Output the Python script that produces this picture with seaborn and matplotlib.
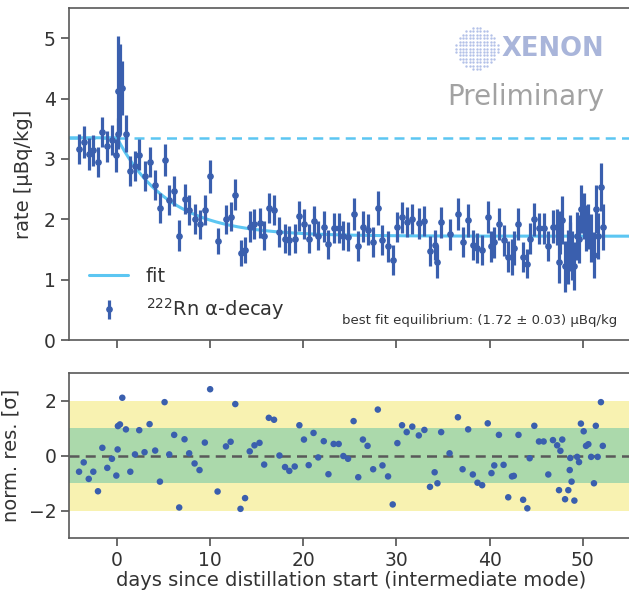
import numpy as np
import matplotlib
matplotlib.use("Agg")
import matplotlib.pyplot as plt
import seaborn as sns

# ---------------- data ----------------
days = [-4.07, -3.57, -3.03, -2.54, -2.04, -1.57, -1.04, -0.54, -0.07, 0.07,
        0.10, 0.32, 0.57, 0.96, 1.43, 1.93, 2.39, 2.96, 3.50, 4.10,
        4.61, 5.11, 5.61, 6.14, 6.68, 7.25, 7.75, 8.33, 8.86, 9.43,
        10.00, 10.80, 11.70, 12.20, 12.70, 13.26, 13.75, 14.25, 14.76, 15.30,
        15.80, 16.30, 16.86, 17.44, 18.04, 18.50, 19.08, 19.58, 20.07, 20.58,
        21.10, 21.60, 22.20, 22.70, 23.26, 23.80, 24.30, 24.80, 25.40, 25.90,
        26.40, 26.90, 27.50, 28.00, 28.50, 29.10, 29.60, 30.10, 30.60, 31.10,
        31.70, 32.40, 33.00, 33.60, 34.10, 34.40, 34.80, 35.70, 36.60, 37.10,
        37.70, 38.20, 38.70, 39.20, 39.80, 40.20, 40.50, 41.00, 41.50, 42.00,
        42.40, 42.60, 43.10, 43.60, 44.05, 44.30, 44.80, 45.30, 45.80, 46.30,
        46.80, 47.25, 47.45, 47.60, 47.80, 48.10, 48.45, 48.60, 48.66, 48.80,
        49.10, 49.40, 49.60, 49.80, 50.10, 50.35, 50.60, 50.90, 51.20, 51.40,
        51.60, 51.95, 52.15]

rate = [3.17, 3.28, 3.08, 3.14, 2.95, 3.45, 3.21, 3.32, 3.06, 3.42,
        4.13, 4.16, 4.17, 3.42, 2.80, 2.88, 3.07, 2.72, 2.95, 2.57,
        2.19, 2.98, 2.32, 2.47, 1.73, 2.33, 2.15, 2.00, 1.92, 2.15,
        2.71, 1.64, 2.00, 2.04, 2.41, 1.44, 1.49, 1.88, 1.92, 1.94,
        1.73, 2.19, 2.15, 1.79, 1.68, 1.65, 1.68, 2.06, 1.92, 1.68,
        1.97, 1.73, 1.88, 1.59, 1.85, 1.85, 1.73, 1.71, 2.09, 1.56,
        1.88, 1.83, 1.63, 2.19, 1.65, 1.55, 1.33, 1.87, 2.03, 1.95,
        2.00, 1.93, 1.97, 1.47, 1.58, 1.30, 1.95, 1.75, 2.09, 1.62,
        1.98, 1.57, 1.52, 1.49, 2.04, 1.55, 1.62, 1.92, 1.65, 1.38,
        1.38, 1.53, 1.92, 1.37, 1.26, 1.68, 2.00, 1.85, 1.85, 1.56,
        1.88, 1.87, 1.30, 1.78, 1.99, 1.22, 1.38, 1.55, 1.69, 1.40,
        1.23, 1.72, 1.67, 2.17, 2.05, 1.85, 1.88, 1.69, 1.41, 2.17,
        1.72, 2.53, 1.87]

rate_err = [0.25, 0.26, 0.26, 0.25, 0.25, 0.25, 0.26, 0.25, 0.27, 0.25,
            0.90, 0.75, 0.45, 0.30, 0.25, 0.25, 0.26, 0.25, 0.25, 0.25,
            0.25, 0.26, 0.25, 0.25, 0.25, 0.25, 0.25, 0.25, 0.24, 0.25,
            0.28, 0.22, 0.24, 0.24, 0.25, 0.22, 0.22, 0.25, 0.25, 0.25,
            0.24, 0.25, 0.25, 0.25, 0.24, 0.24, 0.24, 0.25, 0.25, 0.24,
            0.25, 0.24, 0.25, 0.24, 0.25, 0.25, 0.24, 0.24, 0.27, 0.25,
            0.25, 0.25, 0.25, 0.28, 0.25, 0.25, 0.25, 0.25, 0.26, 0.25,
            0.25, 0.25, 0.25, 0.25, 0.25, 0.27, 0.26, 0.26, 0.27, 0.25,
            0.27, 0.25, 0.25, 0.25, 0.27, 0.26, 0.26, 0.27, 0.26, 0.26,
            0.30, 0.28, 0.27, 0.25, 0.24, 0.26, 0.27, 0.26, 0.26, 0.25,
            0.28, 0.30, 0.35, 0.35, 0.40, 0.42, 0.45, 0.40, 0.38, 0.40,
            0.40, 0.40, 0.40, 0.40, 0.38, 0.38, 0.38, 0.40, 0.38, 0.40,
            0.38, 0.40, 0.38]

residual = [-0.59, -0.25, -0.85, -0.59, -1.30, 0.28, -0.45, -0.12, -0.73, 0.22,
            1.07, 1.13, 2.10, 0.95, -0.59, 0.04, 0.92, 0.12, 1.14, 0.18,
            -0.95, 1.94, 0.04, 0.75, -1.89, 0.59, 0.08, -0.29, -0.53, 0.47,
            2.41, -1.31, 0.33, 0.50, 1.87, -1.94, -1.55, 0.15, 0.37, 0.46,
            -0.33, 1.37, 1.30, 0.00, -0.42, -0.56, -0.40, 1.10, 0.58, -0.35,
            0.82, -0.07, 0.52, -0.68, 0.42, 0.42, -0.02, -0.12, 1.25, -0.79,
            0.58, 0.35, -0.50, 1.67, -0.36, -0.76, -1.78, 0.45, 1.10, 0.85,
            1.05, 0.73, 0.93, -1.14, -0.61, -1.01, 0.85, 0.08, 1.39, -0.50,
            0.95, -0.69, -0.99, -1.08, 1.17, -0.64, -0.36, 0.75, -0.34, -1.52,
            -0.76, -0.74, 0.75, -1.61, -1.92, -0.10, 1.08, 0.51, 0.51, -0.69,
            0.56, 0.37, -1.26, 0.17, 0.58, -1.59, -1.26, -0.53, -0.09, -0.95,
            -1.64, -0.05, -0.24, 1.16, 0.88, 0.35, 0.41, -0.05, -1.01, 1.08,
            -0.05, 1.94, 0.35]

# fit parameters
fit_initial = 3.35        # µBq/kg before distillation
fit_equilibrium = 1.72    # µBq/kg
rn_half_life = 3.82       # days

# ---------------- style ----------------
sns.set_theme(style="ticks")
plt.rcParams["font.family"] = ["DejaVu Sans"]
plt.rcParams["axes.edgecolor"] = "0.35"
plt.rcParams["xtick.color"] = "0.35"
plt.rcParams["ytick.color"] = "0.35"
plt.rcParams["xtick.labelcolor"] = "0.2"
plt.rcParams["ytick.labelcolor"] = "0.2"

DATA_C = "#3a5fae"
FIT_C = "#5cc6f2"
TXT_C = "0.2"
FS_TICK = 13.5
FS_LAB = 14

fig = plt.figure(figsize=(6.29, 5.90), dpi=100)
ax1 = fig.add_axes([69 / 629, 1 - 340 / 590, 565 / 629, 332 / 590])
ax2 = fig.add_axes([69 / 629, 1 - 538 / 590, 565 / 629, 165 / 590])

xlim = (-5.15, 55.5)

# ---------------- top panel ----------------
tfit = np.linspace(xlim[0], xlim[1], 600)
tau = rn_half_life / np.log(2)
yfit = np.where(tfit < 0, fit_initial,
                fit_equilibrium + (fit_initial - fit_equilibrium) * np.exp(-np.clip(tfit, 0, None) / tau))

ax1.axhline(fit_initial, color=FIT_C, lw=1.8, ls=(0, (4, 2.5)), zorder=1)
sns.lineplot(x=tfit, y=yfit, ax=ax1, color=FIT_C, lw=2.2, label="fit", zorder=2)
ax1.errorbar(days, rate, yerr=rate_err, fmt="o", color=DATA_C, ms=3.8,
             elinewidth=2.3, capsize=0, label=r"$^{222}$Rn α-decay", zorder=3)

ax1.set_xlim(*xlim)
ax1.set_ylim(0, 5.5)
ax1.set_xticks([0, 10, 20, 30, 40, 50])
ax1.set_xticklabels([])
ax1.set_yticks([0, 1, 2, 3, 4, 5])
ax1.tick_params(axis="y", labelsize=FS_TICK)
ax1.set_ylabel("rate [µBq/kg]", fontsize=FS_LAB, color=TXT_C, labelpad=8)
for s in ["top", "right", "left", "bottom"]:
    ax1.spines[s].set_visible(True)
    ax1.spines[s].set_linewidth(1.2)

leg = ax1.legend(loc="lower left", bbox_to_anchor=(0.005, 0.0), frameon=False,
                 fontsize=FS_LAB, handlelength=2.0, handletextpad=0.9, labelspacing=0.55)
for t in leg.get_texts():
    t.set_color(TXT_C)

ax1.text(0.97, 0.04, "best fit equilibrium: (1.72 ± 0.03) µBq/kg",
         transform=ax1.transAxes, ha="right", va="bottom", fontsize=9.5, color=TXT_C)

# XENON logo + Preliminary
ax1.text(0.947, 0.878, "XENON", transform=ax1.transAxes, ha="right", va="center",
         fontsize=18.5, fontweight="bold", color="#a9b5da")
gx, gy = np.meshgrid(np.linspace(-1, 1, 13), np.linspace(-1, 1, 13))
mask = gx ** 2 + gy ** 2 <= 1.05
cx, cy, r = 0.722, 0.878, 0.037
ax1.scatter(cx + r * gx[mask], cy + r * gy[mask] * (565 / 332),
            transform=ax1.transAxes, s=3.0, color="#b3c1e8", lw=0, zorder=5)
ax1.text(0.947, 0.733, "Preliminary", transform=ax1.transAxes, ha="right", va="center",
         fontsize=20, color="#a2a2a2")

# ---------------- bottom panel ----------------
ax2.axhspan(-2, 2, color="#f8f2b1", lw=0, zorder=0)
ax2.axhspan(-1, 1, color="#abd9ab", lw=0, zorder=0.5)
ax2.axhline(0, color="0.35", lw=1.8, ls=(0, (4, 2.5)), zorder=1)
sns.scatterplot(x=days, y=residual, ax=ax2, color=DATA_C, s=22, edgecolor="none", zorder=3)

ax2.set_xlim(*xlim)
ax2.set_ylim(-3, 3)
ax2.set_xticks([0, 10, 20, 30, 40, 50])
ax2.set_yticks([-2, 0, 2])
ax2.tick_params(labelsize=FS_TICK, pad=3)
ax2.set_ylabel("norm. res. [σ]", fontsize=FS_LAB, color=TXT_C, labelpad=6)
ax2.set_xlabel("days since distillation start (intermediate mode)", fontsize=FS_LAB,
               color=TXT_C, labelpad=1)
for s in ["top", "right", "left", "bottom"]:
    ax2.spines[s].set_visible(True)
    ax2.spines[s].set_linewidth(1.2)

fig.savefig("out.png", dpi=100)
